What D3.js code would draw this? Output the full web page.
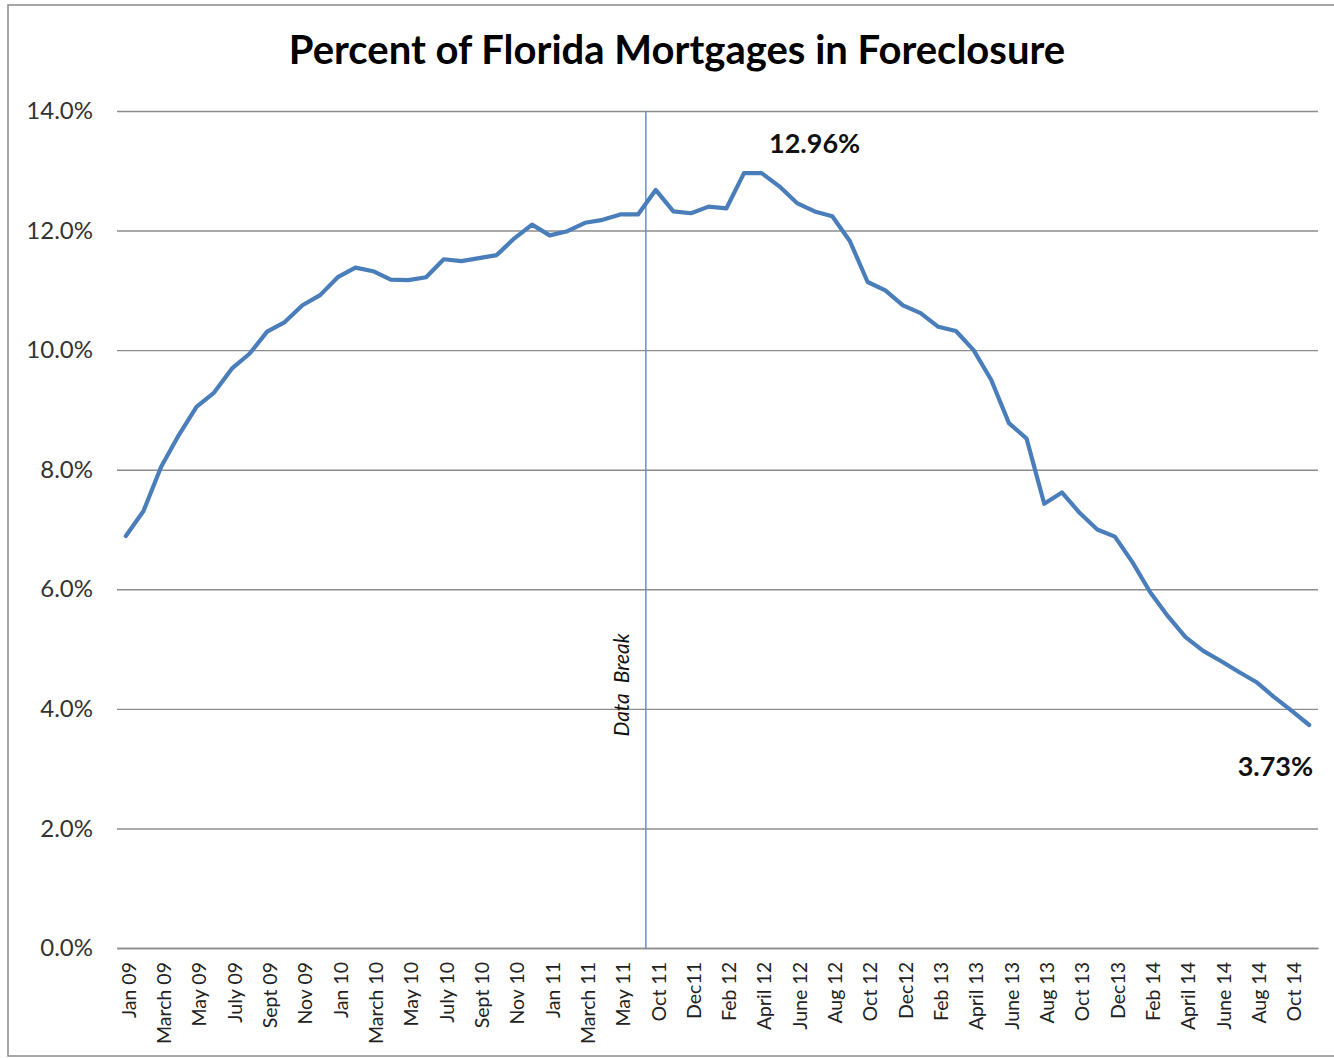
<!DOCTYPE html>
<html>
<head>
<meta charset="utf-8">
<script src="https://cdn.jsdelivr.net/npm/d3@7"></script>
<style>
  body { margin: 0; background: #fff; }
  svg { display: block; }
  .x-axis text { font-family: Lato, sans-serif; font-size: 19.5px; fill: #222; }
  .y-axis text { font-family: Lato, sans-serif; font-size: 24px; fill: #333; }
</style>
</head>
<body>
<div id="chart"></div>
<script>
// months shown on the category axis (data break between Jun 11 and Oct 11)
const months = [
  "Jan 09","Feb 09","Mar 09","Apr 09","May 09","Jun 09","Jul 09","Aug 09","Sep 09","Oct 09","Nov 09","Dec 09",
  "Jan 10","Feb 10","Mar 10","Apr 10","May 10","Jun 10","Jul 10","Aug 10","Sep 10","Oct 10","Nov 10","Dec 10",
  "Jan 11","Feb 11","Mar 11","Apr 11","May 11","Jun 11",
  "Oct 11","Nov 11","Dec 11",
  "Jan 12","Feb 12","Mar 12","Apr 12","May 12","Jun 12","Jul 12","Aug 12","Sep 12","Oct 12","Nov 12","Dec 12",
  "Jan 13","Feb 13","Mar 13","Apr 13","May 13","Jun 13","Jul 13","Aug 13","Sep 13","Oct 13","Nov 13","Dec 13",
  "Jan 14","Feb 14","Mar 14","Apr 14","May 14","Jun 14","Jul 14","Aug 14","Sep 14","Oct 14","Nov 14"
];

// percent of mortgages in foreclosure, one per month
const foreclosurePct = [
  6.89, 7.31, 8.05, 8.58, 9.05, 9.29, 9.69, 9.94, 10.31, 10.47, 10.75, 10.92,
  11.22, 11.38, 11.32, 11.18, 11.17, 11.22, 11.52, 11.49, 11.54, 11.59, 11.87, 12.10,
  11.92, 11.99, 12.13, 12.18, 12.27, 12.27,
  12.68, 12.32, 12.29,
  12.40, 12.37, 12.96, 12.96, 12.74, 12.46, 12.32, 12.24, 11.82, 11.14, 11.00, 10.75,
  10.62, 10.39, 10.32, 10.00, 9.50, 8.78, 8.52, 7.43, 7.62, 7.28, 7.00, 6.88,
  6.45, 5.95, 5.55, 5.20, 4.97, 4.80, 4.62, 4.45, 4.20, 3.97, 3.73
];

// labels printed under every other month
const tickLabels = [
  "Jan 09","March 09","May 09","July 09","Sept 09","Nov 09","Jan 10","March 10","May 10",
  "July 10","Sept 10","Nov 10","Jan 11","March 11","May 11","Oct 11","Dec11","Feb 12",
  "April 12","June 12","Aug 12","Oct 12","Dec12","Feb 13","April 13","June 13","Aug 13",
  "Oct 13","Dec13","Feb 14","April 14","June 14","Aug 14","Oct 14"
];

const yTicks = [0, 2, 4, 6, 8, 10, 12, 14];

const title = "Percent of Florida Mortgages in Foreclosure";
const breakMonth = "Oct 11";

const width = 1334, height = 1058;
const margin = {top: 111, right: 16, bottom: 110, left: 117};

const svg = d3.select('#chart').append('svg')
    .attr('width', width)
    .attr('height', height);

// outer chart border
svg.append('rect')
    .attr('x', 8).attr('y', 5)
    .attr('width', width)
    .attr('height', height - 7)
    .attr('fill', '#fff')
    .attr('stroke', '#8a8a8a')
    .attr('stroke-width', 1.5);

const x = d3.scaleBand()
    .domain(months)
    .range([margin.left, width - margin.right]);

const y = d3.scaleLinear()
    .domain([0, 14])
    .range([height - margin.bottom, margin.top]);

// gridlines + y labels
const yAxis = svg.append('g')
    .attr('class', 'y-axis')
    .attr('transform', `translate(${margin.left},0)`)
    .call(d3.axisLeft(y)
        .tickValues(yTicks)
        .tickSize(-(width - margin.left - margin.right))
        .tickPadding(24)
        .tickFormat(d => d.toFixed(1) + '%'));
yAxis.select('.domain').remove();
yAxis.selectAll('line').attr('stroke', '#8c8c8c').attr('stroke-width', 1.4);

// category axis
const xAxis = svg.append('g')
    .attr('class', 'x-axis')
    .attr('transform', `translate(0,${y(0)})`)
    .call(d3.axisBottom(x)
        .tickValues(months.filter((d, i) => i % 2 === 0))
        .tickSize(0)
        .tickFormat((d, i) => tickLabels[i]));
xAxis.select('.domain').attr('stroke', '#8c8c8c').attr('stroke-width', 1.4);
xAxis.selectAll('text')
    .attr('transform', 'rotate(-90)')
    .attr('text-anchor', 'end')
    .attr('x', -14)
    .attr('y', 3)
    .attr('dy', '0.35em');

// data break marker
const breakX = x(breakMonth) - 1;
svg.append('line')
    .attr('x1', breakX).attr('x2', breakX)
    .attr('y1', y(14)).attr('y2', y(0))
    .attr('stroke', '#6a8fc2')
    .attr('stroke-width', 1.5);

svg.append('text')
    .attr('transform', `translate(${breakX - 17},${y(4.4)}) rotate(-90)`)
    .attr('text-anchor', 'middle')
    .style('font-family', 'Lato, sans-serif')
    .style('font-style', 'italic')
    .style('font-size', '21px')
    .style('word-spacing', '5px')
    .attr('fill', '#111')
    .text('Data Break');

// the series
const line = d3.line()
    .x((d, i) => x(months[i]) + x.bandwidth() / 2)
    .y(d => y(d));

svg.append('path')
    .datum(foreclosurePct)
    .attr('d', line)
    .attr('fill', 'none')
    .attr('stroke', '#4a7ebb')
    .attr('stroke-width', 4.2)
    .attr('stroke-linejoin', 'round')
    .attr('stroke-linecap', 'round');

// peak and last value call-outs
const peak = d3.max(foreclosurePct);
const last = foreclosurePct[foreclosurePct.length - 1];

svg.append('text')
    .attr('x', x(months[39]) + x.bandwidth() / 2)
    .attr('y', y(peak) - 20)
    .attr('text-anchor', 'middle')
    .style('font-family', 'Lato, sans-serif')
    .style('font-weight', 'bold')
    .style('font-size', '27px')
    .attr('fill', '#111')
    .text(peak.toFixed(2) + '%');

svg.append('text')
    .attr('x', x(months[months.length - 1]) + x.bandwidth() / 2 + 4)
    .attr('y', y(last) + 51)
    .attr('text-anchor', 'end')
    .style('font-family', 'Lato, sans-serif')
    .style('font-weight', 'bold')
    .style('font-size', '27px')
    .attr('fill', '#111')
    .text(last.toFixed(2) + '%');

// title
svg.append('text')
    .attr('x', 677)
    .attr('y', 64)
    .attr('text-anchor', 'middle')
    .style('font-family', 'Lato, sans-serif')
    .style('font-weight', 'bold')
    .style('font-size', '40px')
    .attr('fill', '#000')
    .text(title);
</script>
</body>
</html>
